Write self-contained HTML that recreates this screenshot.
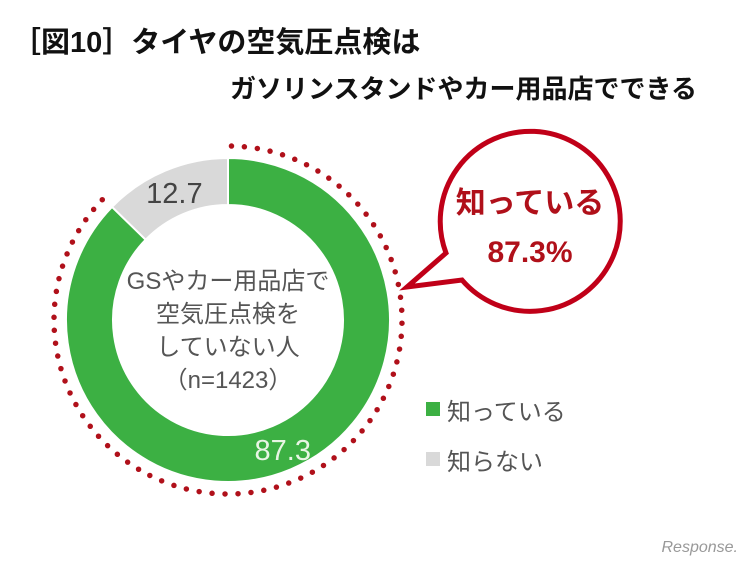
<!DOCTYPE html>
<html><head><meta charset="utf-8"><style>
body{margin:0;width:752px;height:564px;background:#fff;overflow:hidden;font-family:"Liberation Sans","Noto Sans CJK JP",sans-serif}
svg{position:absolute;left:0;top:0}
</style></head><body>
<svg width="752" height="564">
<text x="12" y="52" font-size="29" font-weight="bold" fill="#111">［図10］タイヤの空気圧点検は</text>
<text x="697" y="98" text-anchor="end" font-size="26" font-weight="bold" fill="#111">ガソリンスタンドやカー用品店でできる</text>
<g id="donut"></g>
<g font-size="24" fill="#555" text-anchor="middle">
<text x="228" y="289">GSやカー用品店で</text>
<text x="228" y="322">空気圧点検を</text>
<text x="228" y="355">していない人</text>
<text x="228" y="388">（n=1423）</text>
</g>
<g>
<path d="M446,253 L407,287 L462,280 A90,90 0 1 0 446,253 Z" fill="#fff" stroke="#c00018" stroke-width="5" stroke-linejoin="miter"/>
<text x="530" y="213" text-anchor="middle" font-size="30" font-weight="bold" fill="#b0101a">知っている</text>
<text x="530" y="262" text-anchor="middle" font-size="30" font-weight="bold" fill="#b0101a">87.3%</text>
</g>
<g>
<rect x="426" y="402" width="14" height="14" fill="#3cb043"/>
<text x="447" y="420" font-size="24" fill="#555">知っている</text>
<rect x="426" y="452" width="14" height="14" fill="#d9d9d9"/>
<text x="447" y="470" font-size="24" fill="#555">知らない</text>
</g>
<text x="738" y="552" text-anchor="end" font-size="16" fill="#999" font-style="italic">Response.</text>
</svg>
<script>
const categories=["知っている","知らない"];
const values=[87.3,12.7];
const labels=["87.3","12.7"];
const colors=["#3cb043","#d9d9d9"];
const cx=228,cy=320,R=162,r=115;
const g=document.getElementById('donut');
const NS="http://www.w3.org/2000/svg";
const total=values.reduce((a,b)=>a+b,0);
function pt(a,rad){return [cx+rad*Math.sin(a),cy-rad*Math.cos(a)];}
let a0=0;
values.forEach((v,i)=>{
 const a1=a0+v/total*2*Math.PI;
 const large=(a1-a0)>Math.PI?1:0;
 const p1=pt(a0,R),p2=pt(a1,R),p3=pt(a1,r),p4=pt(a0,r);
 const p=document.createElementNS(NS,'path');
 p.setAttribute('d',`M${p1} A${R},${R} 0 ${large} 1 ${p2} L${p3} A${r},${r} 0 ${large} 0 ${p4} Z`);
 p.setAttribute('fill',colors[i]);p.setAttribute('stroke','#fff');p.setAttribute('stroke-width','2');
 
 
 g.appendChild(p);
 const mid=(a0+a1)/2;
 const lp=pt(mid,i===0?141:138);
 const t=document.createElementNS(NS,'text');
 t.setAttribute('x',lp[0]);t.setAttribute('y',lp[1]+10);
 t.setAttribute('text-anchor','middle');t.setAttribute('font-size','29');
 t.setAttribute('fill',i===0?'#e8f5e4':'#444');
 t.textContent=labels[i];
 
 
 g.appendChild(t);
 if(i===0){
  const RD=174;const q1=pt(a0+0.02,RD),q2=pt(a1,RD);
  const d=document.createElementNS(NS,'path');
  d.setAttribute('d',`M${q1} A${RD},${RD} 0 ${large} 1 ${q2}`);
  d.setAttribute('fill','none');d.setAttribute('stroke','#b0101a');d.setAttribute('stroke-width','5.5');
  d.setAttribute('stroke-linecap','round');d.setAttribute('stroke-dasharray','0 13');
  
  
  g.appendChild(d);
 }
 a0=a1;
});
</script>
</body></html>
